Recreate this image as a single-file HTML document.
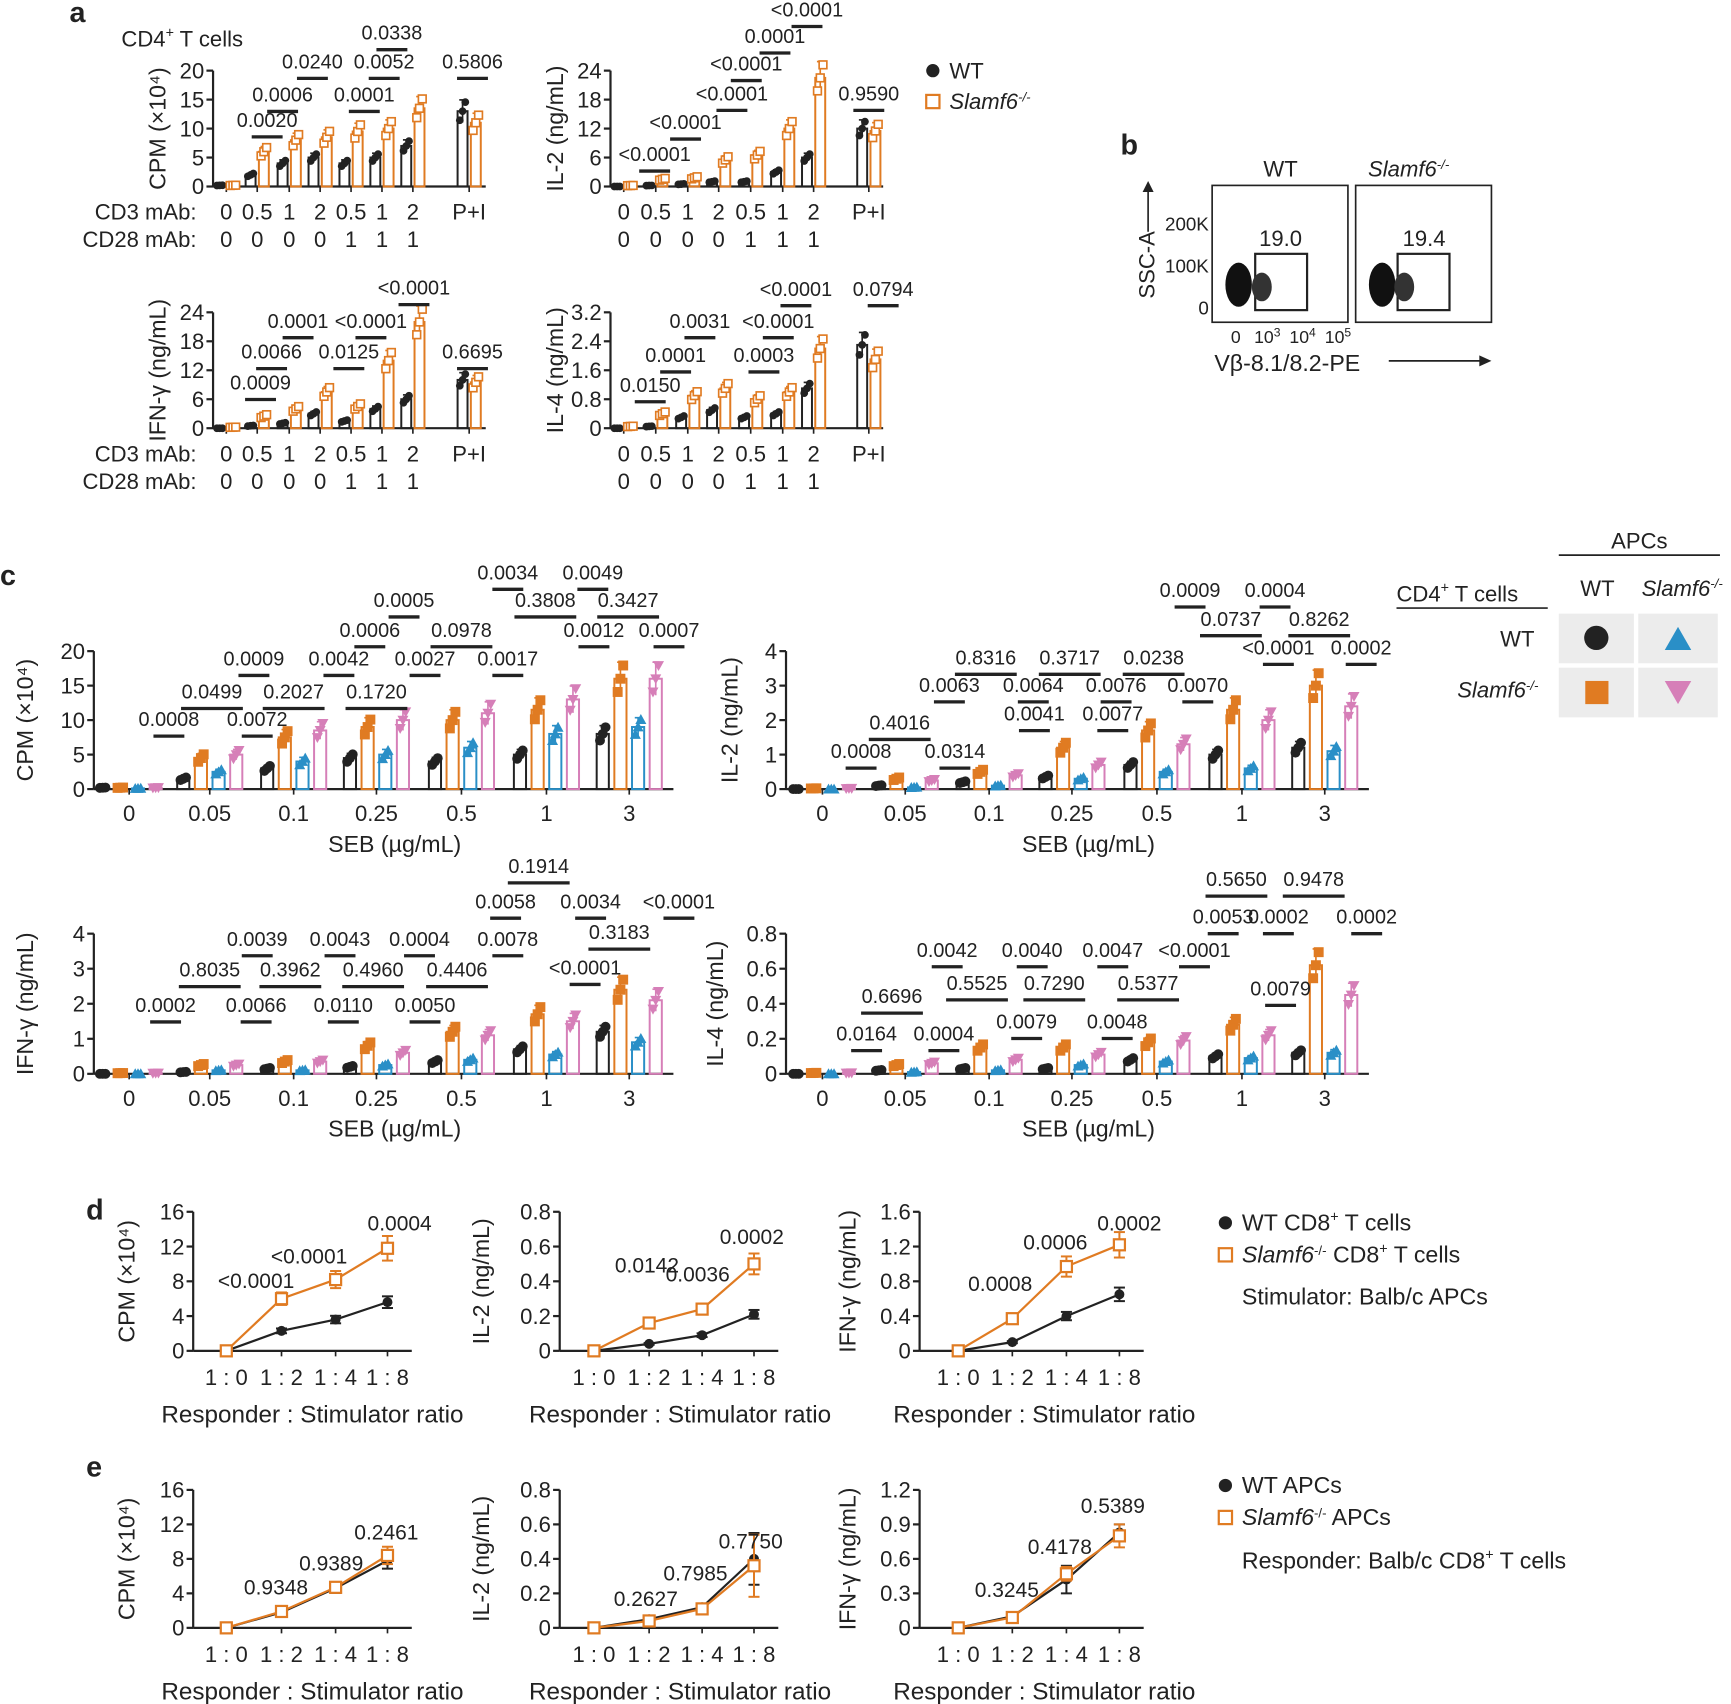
<!DOCTYPE html>
<html><head><meta charset="utf-8"><style>
html,body{margin:0;padding:0;background:#fff}
svg{display:block}
text{font-family:"Liberation Sans",Arial,sans-serif;fill:#222}
</style></head><body>
<svg id="s" width="1731" height="1704" viewBox="0 0 1568 1544" preserveAspectRatio="none" xmlns="http://www.w3.org/2000/svg">
<g font-weight="bold" font-size="26">
<text x="63" y="20">a</text><text x="1015" y="140">b</text><text x="0" y="530">c</text><text x="78" y="1105">d</text><text x="78" y="1338">e</text>
</g>
<text x="110" y="42" font-size="20">CD4<tspan dy="-8" font-size="13">+</tspan><tspan dy="8"> T cells</tspan></text>
<circle cx="845" cy="64" r="6" fill="#222"/><text x="860" y="71" font-size="20">WT</text>
<rect x="839" y="86" width="12" height="12" fill="none" stroke="#e07b22" stroke-width="2"/><text x="860" y="99" font-size="20" font-style="italic">Slamf6<tspan dy="-7" font-size="12">-/-</tspan></text>
<text x="1160" y="160" font-size="20" text-anchor="middle">WT</text>
<text x="1276" y="160" font-size="20" text-anchor="middle" font-style="italic">Slamf6<tspan dy="-7" font-size="12">-/-</tspan></text>
<rect x="1098" y="168" width="123" height="124" fill="none" stroke="#222" stroke-width="1.5"/>
<rect x="1228" y="168" width="123" height="124" fill="none" stroke="#222" stroke-width="1.5"/>
<rect x="1137" y="230" width="47" height="51" fill="none" stroke="#222" stroke-width="2"/>
<rect x="1266" y="230" width="47" height="51" fill="none" stroke="#222" stroke-width="2"/>
<ellipse cx="1122" cy="258" rx="12" ry="20" fill="#111"/><ellipse cx="1143" cy="260" rx="9" ry="13" fill="#333"/>
<ellipse cx="1252" cy="258" rx="12" ry="20" fill="#111"/><ellipse cx="1272" cy="260" rx="9" ry="13" fill="#333"/>
<text x="1160" y="223" font-size="20" text-anchor="middle">19.0</text><text x="1290" y="223" font-size="20" text-anchor="middle">19.4</text>
<g font-size="17" text-anchor="end"><text x="1095" y="209">200K</text><text x="1095" y="247">100K</text><text x="1095" y="285">0</text></g>
<text transform="translate(1046,240) rotate(-90)" font-size="20" text-anchor="middle">SSC-A</text>
<line x1="1040" y1="210" x2="1040" y2="172" stroke="#222" stroke-width="1.5"/><path d="M1035,174 L1040,164 L1045,174Z" fill="#222"/>
<g font-size="16"><text x="1115" y="311">0</text><text x="1136" y="311">10<tspan dy="-6" font-size="11">3</tspan></text><text x="1168" y="311">10<tspan dy="-6" font-size="11">4</tspan></text><text x="1200" y="311">10<tspan dy="-6" font-size="11">5</tspan></text></g>
<text x="1100" y="336" font-size="21">Vβ-8.1/8.2-PE</text>
<line x1="1258" y1="327" x2="1342" y2="327" stroke="#222" stroke-width="1.5"/><path d="M1340,322 L1351,327 L1340,332Z" fill="#222"/>
<text x="1485" y="497" font-size="20" text-anchor="middle">APCs</text>
<line x1="1412" y1="503" x2="1558" y2="503" stroke="#222" stroke-width="1.5"/>
<text x="1265" y="545" font-size="20">CD4<tspan dy="-8" font-size="13">+</tspan><tspan dy="8"> T cells</tspan></text>
<line x1="1265" y1="551" x2="1402" y2="551" stroke="#222" stroke-width="1.5"/>
<text x="1447" y="540" font-size="20" text-anchor="middle">WT</text>
<text x="1487" y="540" font-size="20" font-style="italic">Slamf6<tspan dy="-7" font-size="12">-/-</tspan></text>
<text x="1390" y="586" font-size="20" text-anchor="end">WT</text>
<text x="1320" y="632" font-size="20" font-style="italic">Slamf6<tspan dy="-7" font-size="12">-/-</tspan></text>
<rect x="1412" y="556" width="68" height="45" fill="#ececec"/><rect x="1484" y="556" width="72" height="45" fill="#ececec"/>
<rect x="1412" y="605" width="68" height="45" fill="#ececec"/><rect x="1484" y="605" width="72" height="45" fill="#ececec"/>
<circle cx="1446" cy="578" r="11" fill="#222"/><path d="M1508,589 L1520,568 L1532,589Z" fill="#2a8fc7"/>
<rect x="1436" y="617" width="21" height="21" fill="#e07b22"/><path d="M1508,617 L1532,617 L1520,638Z" fill="#d67fb8"/>
<g font-size="21">
<circle cx="1110" cy="1108" r="6" fill="#222"/><text x="1125" y="1115">WT CD8<tspan dy="-8" font-size="13">+</tspan><tspan dy="8"> T cells</tspan></text>
<rect x="1104" y="1131" width="12" height="12" fill="none" stroke="#e07b22" stroke-width="2"/><text x="1125" y="1144"><tspan font-style="italic">Slamf6</tspan><tspan dy="-7" font-size="12">-/-</tspan><tspan dy="7"> CD8</tspan><tspan dy="-8" font-size="13">+</tspan><tspan dy="8"> T cells</tspan></text>
<text x="1125" y="1182">Stimulator: Balb/c APCs</text>
<circle cx="1110" cy="1346" r="6" fill="#222"/><text x="1125" y="1353">WT APCs</text>
<rect x="1104" y="1369" width="12" height="12" fill="none" stroke="#e07b22" stroke-width="2"/><text x="1125" y="1382"><tspan font-style="italic">Slamf6</tspan><tspan dy="-7" font-size="12">-/-</tspan><tspan dy="7"> APCs</tspan></text>
<text x="1125" y="1421">Responder: Balb/c CD8<tspan dy="-8" font-size="13">+</tspan><tspan dy="8"> T cells</tspan></text>
</g>
<g id="dyn"></g>
</svg>
<script>
var NS="http://www.w3.org/2000/svg",G=document.getElementById("dyn");
function el(t,a,txt){var e=document.createElementNS(NS,t);for(var k in a)e.setAttribute(k,a[k]);if(txt!=null)e.textContent=txt;G.appendChild(e);return e;}
function L(x1,y1,x2,y2,c,w){el("line",{x1:x1,y1:y1,x2:x2,y2:y2,stroke:c||"#222","stroke-width":w||1.5});}
function T(x,y,s,fs,anc){return el("text",{x:x,y:y,"font-size":fs||19,"text-anchor":anc||"middle"},s);}
var OR="#e07b22",BL="#2a8fc7",PK="#d67fb8";
function axes(o){
 var sc=function(v){return o.y0-(v/o.max)*(o.y0-o.y1);};
 L(o.x0,o.y1,o.x0,o.y0,"#222",2);L(o.x0,o.y0,o.xEnd,o.y0,"#222",2);
 o.ticks.forEach(function(t,i){var y=o.y0-i*(o.y0-o.y1)/(o.ticks.length-1);L(o.x0-6,y,o.x0,y,"#222",2);T(o.x0-8,y+7,t,20,"end");});
 el("text",{transform:"translate("+o.lx+","+((o.y0+o.y1)/2)+") rotate(-90)","font-size":21,"text-anchor":"middle"},o.ylab);
 return sc;}
function pv(list,fs){list.forEach(function(p){T(p[0],p[1]+5,p[2],fs||18);L(p[0]-p[3],p[1]+14,p[0]+p[3],p[1]+14,"#222",3);});}
function bars(o,sc,xs,series,w,filled){
 series.forEach(function(s){xs.forEach(function(x,i){var v=s.v[i],cx=x+s.off,y=sc(v);
  el("rect",{x:cx-w/2,y:y,width:w,height:o.y0-y,fill:"none",stroke:s.c,"stroke-width":1.8});
  var e=Math.max(v*0.15,o.max*0.01);L(cx,sc(v+e),cx,sc(v-e),s.c,1.5);L(cx-3,sc(v+e),cx+3,sc(v+e),s.c,1.5);
  for(var k=0;k<3;k++){var vv=v*(1+(k-1)*0.12),my=sc(vv),mx=cx+(k-1)*2.5;
   if(filled){ if(s.m=="c")el("circle",{cx:mx,cy:my,r:4.5,fill:s.c});
    else if(s.m=="s")el("rect",{x:mx-4.5,y:my-4.5,width:9,height:9,fill:s.c});
    else if(s.m=="t")el("path",{d:"M"+(mx-5)+","+(my+4)+"L"+mx+","+(my-5)+"L"+(mx+5)+","+(my+4)+"Z",fill:s.c});
    else el("path",{d:"M"+(mx-5)+","+(my-4)+"L"+(mx+5)+","+(my-4)+"L"+mx+","+(my+5)+"Z",fill:s.c});}
   else{ if(s.m=="c")el("circle",{cx:mx,cy:my,r:3.5,fill:s.c});
    else el("rect",{x:mx-3.5,y:my-3.5,width:7,height:7,fill:"#fff",stroke:s.c,"stroke-width":1.5});}
  }});});}
function pa(x0,y1,y0,xEnd,max,ticks,lab,lx,xs,wt,ko,ps,rows){
 var o={x0:x0,y1:y1,y0:y0,xEnd:xEnd,max:max,ticks:ticks,ylab:lab,lx:lx},sc=axes(o);
 xs.forEach(function(x){L(x,y0,x,y0+5,"#222",1.5);});
 bars(o,sc,xs,[{off:-6,c:"#222",v:wt,m:"c"},{off:6,c:OR,v:ko,m:"s"}],9,false);
 pv(ps,18);
 var l1=["0","0.5","1","2","0.5","1","2","P+I"],l2=["0","0","0","0","1","1","1"];
 xs.forEach(function(x,i){T(x,rows,l1[i],20);if(i<7)T(x,rows+25,l2[i],20);});
 if(x0<300){T(178,rows,"CD3 mAb:",20,"end");T(178,rows+25,"CD28 mAb:",20,"end");}
}
var xa1=[205,233,262,290,318,346,374,425],xa2=[565,594,623,651,680,709,737,787];
pa(193,64,169,440,20,["0","5","10","15","20"],"CPM (×10⁴)",150,xa1,[0.2,2,4,5,4,5,7,13],[0.2,6,8,8.5,9.5,10,13.5,11],
 [[242,110,"0.0020",14],[256,87,"0.0006",14],[283,57,"0.0240",14],[330,87,"0.0001",14],[348,57,"0.0052",14],[355,31,"0.0338",14],[428,57,"0.5806",14]],199);
pa(553,64,169,800,24,["0","6","12","18","24"],"IL-2 (ng/mL)",510,xa2,[0,0.2,0.5,1,1,3,6,12],[0.2,1.5,1.8,5.5,6.5,12,22.5,11.5],
 [[593,141,"<0.0001",14],[621,112,"<0.0001",14],[663,86,"<0.0001",14],[676,59,"<0.0001",14],[702,34,"0.0001",14],[731,10,"<0.0001",14],[787,86,"0.9590",14]],199);
pa(193,283,388,440,24,["0","6","12","18","24"],"IFN-γ (ng/mL)",150,xa1,[0,0.5,1,3,1.5,4,6,10],[0.2,2.5,4,7.5,4.5,14,22,9.5],
 [[236,348,"0.0009",14],[246,320,"0.0066",14],[270,292,"0.0001",14],[336,292,"<0.0001",14],[316,320,"0.0125",14],[375,262,"<0.0001",14],[428,320,"0.6695",14]],418);
pa(553,283,388,800,3.2,["0","0.8","1.6","2.4","3.2"],"IL-4 (ng/mL)",510,xa2,[0,0.05,0.3,0.5,0.3,0.4,1.1,2.3],[0.05,0.4,0.9,1.1,0.8,1.0,2.2,1.9],
 [[589,350,"0.0150",14],[612,323,"0.0001",14],[634,292,"0.0031",14],[705,292,"<0.0001",14],[692,323,"0.0003",14],[721,263,"<0.0001",14],[800,263,"0.0794",14]],418);
function pc(x0,y1,y0,xEnd,max,ticks,lab,lx,xs,V,ps){
 var o={x0:x0,y1:y1,y0:y0,xEnd:xEnd,max:max,ticks:ticks,ylab:lab,lx:lx},sc=axes(o);
 var cl=["0","0.05","0.1","0.25","0.5","1","3"];
 xs.forEach(function(x,i){L(x,y0,x,y0+5,"#222",1.5);T(x,y0+29,cl[i],20);});
 T((x0+xEnd)/2+10,y0+57,"SEB (µg/mL)",21);
 bars(o,sc,xs,[{off:-24,c:"#222",v:V[0],m:"c"},{off:-8,c:OR,v:V[1],m:"s"},{off:8,c:BL,v:V[2],m:"t"},{off:24,c:PK,v:V[3],m:"d"}],11,true);
 pv(ps,18);}
var xc1=[117,190,266,341,418,495,570],xc2=[745,820,896,971,1048,1125,1200];
pc(85,590,715,610,20,["0","5","10","15","20"],"CPM (×10⁴)",30,xc1,[[0.2,1.5,3,4.5,4,5,8],[0.2,4.5,7.5,9,10,11.5,16],[0.1,2.5,4,5,6,8,9],[0.2,5,8.5,10,11,13,16]],
 [[153,653,"0.0008",14],[233,653,"0.0072",14],[192,628,"0.0499",28],[266,628,"0.2027",28],[230,598,"0.0009",14],[307,598,"0.0042",14],[341,628,"0.1720",28],[335,572,"0.0006",14],[385,598,"0.0027",14],[460,598,"0.0017",14],[418,572,"0.0978",28],[366,545,"0.0005",14],[460,520,"0.0034",14],[494,545,"0.3808",28],[537,520,"0.0049",14],[538,572,"0.0012",14],[569,545,"0.3427",28],[606,572,"0.0007",14]]);
pc(712,590,715,1240,4,["0","1","2","3","4"],"IL-2 (ng/mL)",668,xc2,[[0,0.1,0.2,0.35,0.7,1.0,1.2],[0.02,0.3,0.5,1.2,1.7,2.3,3.0],[0,0.05,0.1,0.3,0.5,0.6,1.1],[0.02,0.25,0.4,0.7,1.3,2.0,2.4]],
 [[780,682,"0.0008",14],[865,682,"0.0314",14],[815,656,"0.4016",28],[860,622,"0.0063",14],[893,597,"0.8316",28],[936,622,"0.0064",14],[937,648,"0.0041",14],[1008,648,"0.0077",14],[969,597,"0.3717",28],[1011,622,"0.0076",14],[1045,597,"0.0238",28],[1085,622,"0.0070",14],[1078,536,"0.0009",14],[1155,536,"0.0004",14],[1115,562,"0.0737",28],[1195,562,"0.8262",28],[1158,588,"<0.0001",14],[1233,588,"0.0002",14]]);
pc(85,846,973,610,4,["0","1","2","3","4"],"IFN-γ (ng/mL)",30,xc1,[[0,0.05,0.15,0.2,0.35,0.7,1.2],[0.02,0.25,0.35,0.8,1.2,1.7,2.4],[0,0.1,0.1,0.25,0.4,0.55,0.9],[0.02,0.25,0.35,0.6,1.1,1.5,2.1]],
 [[150,912,"0.0002",14],[232,912,"0.0066",14],[190,880,"0.8035",28],[263,880,"0.3962",28],[233,852,"0.0039",14],[308,852,"0.0043",14],[311,912,"0.0110",14],[385,912,"0.0050",14],[338,880,"0.4960",28],[380,852,"0.0004",14],[460,852,"0.0078",14],[414,880,"0.4406",28],[458,818,"0.0058",14],[488,786,"0.1914",28],[535,818,"0.0034",14],[615,818,"<0.0001",14],[561,846,"0.3183",28],[530,878,"<0.0001",14]]);
pc(712,846,973,1240,0.8,["0","0.2","0.4","0.6","0.8"],"IL-4 (ng/mL)",655,xc2,[[0,0.02,0.03,0.03,0.08,0.1,0.12],[0.005,0.05,0.15,0.15,0.18,0.28,0.62],[0,0.01,0.02,0.05,0.07,0.09,0.12],[0.005,0.06,0.08,0.11,0.19,0.22,0.45]],
 [[785,938,"0.0164",14],[855,938,"0.0004",14],[808,904,"0.6696",28],[885,892,"0.5525",28],[858,862,"0.0042",14],[935,862,"0.0040",14],[930,927,"0.0079",14],[1012,927,"0.0048",14],[955,892,"0.7290",28],[1008,862,"0.0047",14],[1082,862,"<0.0001",14],[1040,892,"0.5377",28],[1108,832,"0.0053",14],[1120,798,"0.5650",28],[1158,832,"0.0002",14],[1190,798,"0.9478",28],[1238,832,"0.0002",14],[1160,897,"0.0079",14]]);
function pl(x0,y1,y0,max,ticks,lab,lx,xs,wt,ko,ps,ew){
 var o={x0:x0,y1:y1,y0:y0,xEnd:xs[3]+22,max:max,ticks:ticks,ylab:lab,lx:lx},sc=axes(o);
 var cl=["1 : 0","1 : 2","1 : 4","1 : 8"];
 xs.forEach(function(x,i){L(x,y0,x,y0+5,"#222",1.5);T(x,y0+31,cl[i],20);});
 T(xs[0]+78,y0+65,"Responder : Stimulator ratio",22);
 [[wt,"#222",0],[ko,OR,1]].forEach(function(s){var d="";s[0].forEach(function(v,i){d+=(i?"L":"M")+xs[i]+","+sc(v);});
  el("path",{d:d,fill:"none",stroke:s[1],"stroke-width":2});
  s[0].forEach(function(v,i){var e=(ew&&ew[s[2]]?ew[s[2]][i]:v*0.12);if(e>0){L(xs[i],sc(v+e),xs[i],sc(v-e),s[1],1.8);L(xs[i]-5,sc(v+e),xs[i]+5,sc(v+e),s[1],1.8);L(xs[i]-5,sc(v-e),xs[i]+5,sc(v-e),s[1],1.8);}
   if(s[2]==0)el("circle",{cx:xs[i],cy:sc(v),r:4.5,fill:"#222"});else el("rect",{x:xs[i]-5,y:sc(v)-5,width:10,height:10,fill:"#fff",stroke:OR,"stroke-width":2});});});
 ps.forEach(function(p){T(p[0],p[1]+5,p[2],19);});}
var d1=[205,255,304,351],d2=[538,588,636,683],d3=[868,917,966,1014];
pl(175,1098,1224,16,["0","4","8","12","16"],"CPM (×10⁴)",122,d1,[0,2.3,3.6,5.6],[0,6,8.2,11.8],[[232,1162,"<0.0001"],[280,1140,"<0.0001"],[362,1110,"0.0004"]]);
pl(507,1098,1224,0.8,["0","0.2","0.4","0.6","0.8"],"IL-2 (ng/mL)",443,d2,[0,0.04,0.09,0.21],[0,0.16,0.24,0.5],[[586,1148,"0.0142"],[632,1156,"0.0036"],[681,1122,"0.0002"]]);
pl(833,1098,1224,1.6,["0","0.4","0.8","1.2","1.6"],"IFN-γ (ng/mL)",775,d3,[0,0.1,0.4,0.65],[0,0.37,0.97,1.22],[[906,1165,"0.0008"],[956,1127,"0.0006"],[1023,1110,"0.0002"]]);
pl(175,1350,1475,16,["0","4","8","12","16"],"CPM (×10⁴)",122,d1,[0,1.8,4.6,7.8],[0,1.9,4.7,8.4],[[250,1440,"0.9348"],[300,1418,"0.9389"],[350,1390,"0.2461"]]);
pl(507,1350,1475,0.8,["0","0.2","0.4","0.6","0.8"],"IL-2 (ng/mL)",443,d2,[0,0.05,0.12,0.4],[0,0.04,0.11,0.36],[[585,1450,"0.2627"],[630,1427,"0.7985"],[680,1398,"0.7750"]],[[0,0.02,0.02,0.15],[0,0.02,0.02,0.18]]);
pl(833,1350,1475,1.2,["0","0.3","0.6","0.9","1.2"],"IFN-γ (ng/mL)",775,d3,[0,0.1,0.42,0.83],[0,0.09,0.47,0.8],[[912,1442,"0.3245"],[960,1403,"0.4178"],[1008,1366,"0.5389"]],[[0,0.03,0.12,0.07],[0,0.03,0.06,0.1]]);
</script>
</body></html>
